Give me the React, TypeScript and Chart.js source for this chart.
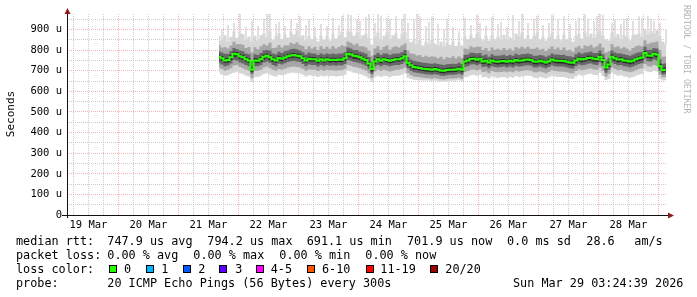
import React, { useEffect, useRef } from "react";
import { Chart, registerables } from "chart.js";

Chart.register(...registerables);

// ---------------- data ----------------
// time axis in hours after 19 Mar 00:00
const rangeStartHour = 3.411; // 19 Mar 03:24:39
const rangeEndHour = 243.411; // 29 Mar 03:24:39
const startHour = 64.2; // first sample
const stepHours = 1.2; // sample spacing

const dayLabels = ["19 Mar", "20 Mar", "21 Mar", "22 Mar", "23 Mar", "24 Mar", "25 Mar", "26 Mar", "27 Mar", "28 Mar"];
const yTickLabels = ["0", "100 u", "200 u", "300 u", "400 u", "500 u", "600 u", "700 u", "800 u", "900 u"];

// median rtt (microseconds)
const median = [
  768, 760, 750, 752, 765, 782, 780, 770, 765, 756,
  750, 705, 750, 748, 755, 768, 772, 765, 755, 750,
  762, 758, 764, 770, 774, 776, 773, 770, 760, 750,
  758, 756, 755, 748, 755, 750, 755, 752, 753, 752,
  754, 753, 760, 782, 778, 772, 770, 765, 758, 752,
  735, 708, 745, 755, 748, 755, 752, 748, 752, 755,
  756, 760, 770, 738, 726, 718, 716, 713, 710, 708,
  707, 705, 708, 705, 701, 700, 703, 705, 705, 706,
  710, 705, 745, 750, 757, 758, 753, 758, 745, 748,
  740, 750, 745, 743, 746, 747, 743, 748, 744, 752,
  748, 750, 753, 754, 752, 744, 743, 748, 744, 740,
  746, 754, 750, 748, 748, 747, 743, 740, 738, 750,
  758, 754, 757, 762, 763, 758, 756, 768, 752, 716,
  730, 768, 760, 754, 756, 750, 748, 744, 748, 755,
  760, 764, 786, 774, 772, 782, 778, 722, 702, 705,
];

// smoke: outer (lightest) band
const smokeLo1 = [
  690, 680, 675, 678, 685, 690, 695, 688, 684, 676,
  672, 645, 668, 670, 675, 684, 688, 682, 676, 672,
  680, 678, 682, 686, 690, 690, 688, 686, 680, 672,
  678, 676, 676, 670, 676, 672, 676, 674, 674, 672,
  674, 674, 680, 700, 696, 690, 688, 684, 678, 672,
  662, 645, 668, 676, 670, 676, 674, 670, 674, 676,
  676, 680, 688, 666, 660, 656, 655, 654, 652, 652,
  652, 650, 652, 650, 648, 647, 649, 651, 651, 652,
  654, 650, 668, 672, 678, 680, 675, 680, 668, 670,
  662, 672, 668, 665, 668, 670, 665, 670, 666, 674,
  670, 672, 675, 676, 674, 666, 665, 670, 666, 662,
  668, 676, 672, 670, 670, 669, 665, 662, 660, 672,
  680, 676, 678, 684, 685, 680, 678, 690, 674, 655,
  660, 690, 682, 676, 678, 672, 670, 666, 670, 676,
  680, 684, 705, 695, 692, 700, 696, 660, 652, 655,
];
const smokeHi1 = [
  868, 845, 872, 840, 865, 890, 860, 880, 878, 850,
  866, 840, 870, 848, 872, 880, 862, 892, 850, 868,
  880, 852, 876, 860, 890, 875, 895, 862, 872, 848,
  870, 852, 866, 842, 872, 850, 868, 846, 880, 856,
  872, 890, 862, 895, 886, 870, 884, 858, 872, 880,
  858, 826, 866, 885, 850, 870, 884, 852, 872, 880,
  856, 878, 890, 850, 838, 852, 830, 846, 822, 840,
  828, 850, 832, 822, 840, 818, 836, 826, 842, 820,
  836, 822, 866, 852, 876, 858, 880, 862, 848, 870,
  846, 872, 852, 866, 848, 874, 850, 862, 848, 880,
  866, 884, 856, 874, 852, 870, 880, 850, 866, 846,
  862, 880, 852, 872, 848, 876, 850, 862, 842, 870,
  878, 856, 884, 866, 880, 858, 876, 892, 870, 852,
  846, 884, 862, 878, 852, 874, 866, 848, 872, 876,
  880, 866, 900, 876, 892, 880, 896, 868, 842, 826,
];
// second band
const smokeLo2 = [
  715, 708, 700, 704, 712, 725, 728, 718, 712, 705,
  700, 665, 698, 700, 705, 715, 720, 712, 705, 700,
  708, 705, 710, 715, 718, 720, 718, 715, 708, 700,
  706, 704, 704, 698, 704, 700, 704, 702, 702, 700,
  702, 702, 708, 728, 724, 718, 716, 712, 706, 700,
  688, 666, 696, 704, 698, 704, 700, 696, 700, 704,
  704, 708, 716, 688, 678, 672, 670, 668, 666, 664,
  663, 661, 664, 661, 658, 657, 660, 662, 662, 663,
  666, 661, 694, 698, 705, 706, 701, 706, 694, 696,
  688, 698, 694, 692, 694, 696, 692, 696, 692, 700,
  696, 698, 701, 702, 700, 692, 692, 696, 692, 688,
  694, 702, 698, 696, 696, 695, 692, 688, 686, 698,
  706, 702, 705, 710, 711, 706, 704, 716, 700, 672,
  684, 716, 708, 702, 704, 698, 696, 692, 696, 702,
  708, 712, 732, 722, 720, 728, 724, 682, 668, 670,
];
const smokeHi2 = [
  825, 812, 815, 808, 822, 840, 828, 830, 826, 810,
  815, 790, 814, 804, 818, 828, 822, 835, 810, 812,
  825, 812, 824, 822, 836, 830, 838, 826, 820, 805,
  818, 808, 815, 800, 818, 806, 816, 806, 820, 808,
  815, 824, 818, 842, 836, 826, 832, 818, 818, 812,
  798, 772, 808, 818, 802, 815, 822, 802, 814, 818,
  812, 822, 832, 798, 784, 782, 774, 776, 766, 772,
  766, 770, 768, 760, 768, 756, 766, 762, 770, 760,
  770, 762, 808, 804, 818, 812, 816, 816, 800, 810,
  795, 812, 802, 806, 800, 810, 800, 808, 798, 815,
  808, 816, 808, 816, 806, 806, 812, 802, 806, 795,
  806, 818, 804, 812, 800, 812, 798, 802, 792, 812,
  820, 808, 822, 818, 826, 812, 818, 832, 812, 788,
  795, 830, 814, 818, 808, 814, 808, 798, 810, 818,
  822, 818, 848, 830, 836, 838, 842, 800, 768, 770,
];
// third band
const smokeLo3 = [
  738, 730, 722, 725, 735, 752, 750, 740, 735, 728,
  722, 685, 722, 722, 728, 740, 745, 738, 728, 722,
  734, 730, 736, 742, 746, 748, 745, 742, 732, 722,
  730, 728, 728, 720, 728, 722, 728, 724, 726, 724,
  726, 725, 732, 752, 748, 742, 740, 736, 730, 724,
  710, 684, 720, 728, 722, 728, 725, 722, 725, 728,
  728, 732, 742, 712, 700, 692, 690, 688, 685, 683,
  682, 680, 683, 680, 676, 675, 678, 680, 680, 681,
  685, 680, 718, 722, 730, 731, 726, 731, 718, 720,
  712, 722, 718, 716, 718, 720, 716, 720, 716, 724,
  720, 722, 725, 726, 724, 716, 716, 720, 716, 712,
  718, 726, 722, 720, 720, 719, 716, 712, 710, 722,
  730, 726, 729, 734, 735, 730, 728, 740, 724, 690,
  704, 740, 732, 726, 728, 722, 720, 716, 720, 726,
  732, 736, 758, 746, 744, 754, 750, 700, 682, 684,
];
const smokeHi3 = [
  795, 788, 782, 782, 795, 810, 804, 798, 794, 784,
  780, 745, 780, 776, 786, 798, 800, 798, 784, 780,
  792, 786, 794, 798, 804, 806, 804, 798, 790, 778,
  788, 784, 784, 776, 784, 778, 784, 780, 784, 780,
  784, 784, 790, 812, 808, 800, 800, 792, 788, 782,
  766, 742, 776, 786, 776, 784, 784, 776, 782, 784,
  784, 790, 800, 766, 754, 748, 744, 742, 738, 737,
  735, 734, 736, 733, 730, 728, 731, 733, 734, 733,
  738, 733, 776, 778, 787, 786, 783, 786, 774, 778,
  768, 780, 773, 773, 774, 777, 771, 777, 772, 782,
  776, 780, 781, 784, 780, 772, 773, 776, 774, 768,
  774, 784, 778, 778, 776, 777, 771, 770, 766, 780,
  788, 782, 787, 790, 793, 786, 786, 798, 780, 750,
  762, 798, 788, 784, 784, 780, 776, 772, 778, 785,
  790, 792, 816, 802, 802, 810, 808, 756, 734, 736,
];
// inner (darkest) band
const smokeLo4 = [
  756, 748, 738, 740, 752, 768, 768, 758, 752, 744,
  738, 695, 738, 736, 742, 756, 760, 752, 742, 738,
  750, 746, 752, 758, 762, 764, 761, 758, 748, 738,
  746, 744, 744, 736, 744, 738, 744, 740, 742, 740,
  742, 741, 748, 768, 764, 758, 756, 752, 746, 740,
  724, 696, 734, 744, 736, 744, 740, 736, 740, 744,
  744, 748, 758, 727, 714, 706, 704, 701, 698, 696,
  695, 693, 696, 693, 689, 688, 691, 693, 693, 694,
  698, 693, 732, 736, 744, 745, 740, 745, 732, 735,
  727, 737, 732, 730, 733, 734, 730, 735, 731, 739,
  735, 737, 740, 741, 739, 731, 730, 735, 731, 727,
  733, 741, 737, 735, 735, 734, 730, 727, 725, 737,
  745, 741, 744, 749, 750, 745, 743, 755, 739, 704,
  718, 755, 747, 741, 743, 737, 735, 731, 735, 742,
  747, 751, 773, 761, 759, 769, 765, 712, 692, 694,
];
const smokeHi4 = [
  778, 770, 760, 762, 776, 792, 790, 780, 776, 766,
  760, 722, 760, 758, 766, 778, 782, 776, 766, 760,
  772, 768, 774, 780, 784, 786, 783, 780, 770, 760,
  768, 766, 765, 758, 765, 760, 765, 762, 763, 762,
  764, 763, 770, 792, 788, 782, 780, 775, 768, 762,
  746, 720, 756, 765, 758, 765, 762, 758, 762, 765,
  766, 770, 780, 748, 736, 728, 726, 723, 720, 718,
  717, 715, 718, 715, 711, 710, 713, 715, 715, 716,
  720, 715, 756, 760, 767, 768, 763, 768, 756, 758,
  750, 760, 755, 753, 756, 757, 753, 758, 754, 762,
  758, 760, 763, 764, 762, 754, 753, 758, 754, 750,
  756, 764, 760, 758, 758, 757, 753, 750, 748, 760,
  768, 764, 767, 772, 773, 768, 766, 778, 762, 728,
  742, 778, 770, 764, 766, 760, 758, 754, 758, 765,
  770, 774, 796, 784, 782, 792, 788, 734, 714, 717,
];
// highest ping per sample where it spikes above the smoke
const smokeSpikes: (number | null)[] = [
  null, 900, null, 920, null, 930, null, 973, null, 910,
  null, 940, null, 915, null, 950, 973, 980, null, 925,
  934, null, 915, null, 945, null, 930, 962, null, 920,
  948, null, 910, null, 925, null, 915, null, 955, null,
  920, 965, null, 972, 968, null, 948, 940, null, 960,
  973, null, 930, 975, 965, null, 955, 950, null, 962,
  null, 950, 980, 930, null, 945, 978, 960, null, 915,
  935, 960, null, 925, null, 900, 950, null, 910, null,
  890, null, 955, null, 920, null, 968, 930, null, 915,
  null, 960, null, 925, 935, null, 910, null, 968, null,
  940, 980, null, 930, null, 950, 965, null, 920, null,
  930, 970, null, 945, null, 962, null, 925, null, 940,
  955, null, 980, 950, null, 940, 962, 975, 970, null,
  null, 930, 945, null, 925, 950, 955, null, 940, null,
  962, 955, null, 965, 950, 940, null, 930, null, 900,
];

// legend texts
const rttLegend = ["median rtt:", "747.9 us avg", "794.2 us max", "691.1 us min", "701.9 us now", "0.0 ms sd", "28.6", "am/s"];
const lossLegend = ["packet loss:", "0.00 % avg", "0.00 % max", "0.00 % min", "0.00 % now"];
const lossColorTitle = "loss color:";
const lossLabels = ["0", "1", "2", "3", "4-5", "6-10", "11-19", "20/20"];
const lossColors = ["#26ff00", "#00b8ff", "#0059ff", "#5e00ff", "#ff00ff", "#ff5500", "#ff0000", "#a00000"];
const probeTitle = "probe:";
const probeText = "20 ICMP Echo Pings (56 Bytes) every 300s";
const stampText = "Sun Mar 29 03:24:39 2026";
const yTitle = "Seconds";
const watermark = "RRDTOOL / TOBI OETIKER";

// ---------------- layout (positions only) ----------------
const rttX = [16, 107.3, 207.3, 306.7, 407, 507, 586.3, 634.3];
const lossX = [16, 107.3, 193.3, 279.3, 365.3];
const boxX = [108.7, 146, 182.7, 219.3, 256, 306.7, 366, 430.3];
const boxLabelX = [124, 161.3, 198.3, 235.3, 270.7, 322, 380.3, 445.3];
const rowTop = [234, 248, 262, 276];

const MONO = "'DejaVu Sans Mono', monospace";
const majorGrid = "rgba(235,150,150,0.7)";
const minorGrid = "rgba(190,190,190,0.8)";

const axesPlugin = {
  id: "rrdAxes",
  afterDatasetsDraw(chart: any) {
    const { ctx, chartArea: a } = chart;
    ctx.save();
    ctx.strokeStyle = "#111";
    ctx.lineWidth = 1;
    ctx.beginPath();
    ctx.moveTo(a.left - 5, a.bottom + 0.5);
    ctx.lineTo(a.right + 1, a.bottom + 0.5);
    ctx.moveTo(a.left + 0.5, a.bottom + 3);
    ctx.lineTo(a.left + 0.5, a.top - 1);
    ctx.stroke();
    ctx.fillStyle = "#8e1c1c";
    ctx.beginPath();
    ctx.moveTo(a.left + 0.5, a.top - 6);
    ctx.lineTo(a.left - 2.5, a.top);
    ctx.lineTo(a.left + 3.5, a.top);
    ctx.closePath();
    ctx.fill();
    ctx.beginPath();
    ctx.moveTo(a.right + 7, a.bottom + 0.5);
    ctx.lineTo(a.right + 1, a.bottom - 2.5);
    ctx.lineTo(a.right + 1, a.bottom + 3.5);
    ctx.closePath();
    ctx.fill();
    ctx.restore();
  },
};

export default function App() {
  const ref = useRef<HTMLCanvasElement>(null);

  useEffect(() => {
    const canvas = ref.current;
    if (!canvas) return;
    const t = (i: number) => startHour + i * stepHours;
    const pts = (arr: number[]) => arr.map((v, i) => ({ x: t(i), y: v }));
    const band = (lo: number[], hi: number[], color: string, order: number) => [
      {
        type: "line",
        data: pts(lo),
        borderWidth: 0,
        borderColor: "rgba(0,0,0,0)",
        pointRadius: 0,
        fill: false,
        stepped: "middle",
        order,
      },
      {
        type: "line",
        data: pts(hi),
        borderWidth: 0,
        borderColor: "rgba(0,0,0,0)",
        backgroundColor: color,
        pointRadius: 0,
        fill: "-1",
        stepped: "middle",
        order,
      },
    ];
    const spikeData: any[] = [];
    smokeSpikes.forEach((v, i) => {
      if (v != null) spikeData.push({ x: t(i), y: [smokeHi1[i], v] });
    });

    const chart = new Chart(canvas, {
      type: "line",
      data: {
        datasets: [
          {
            type: "line",
            data: pts(median),
            borderColor: "#26ff00",
            borderWidth: 2,
            pointRadius: 0,
            fill: false,
            stepped: "middle",
            order: 0,
          },
          ...band(smokeLo4, smokeHi4, "#2a2a2a", 1),
          ...band(smokeLo3, smokeHi3, "#666666", 2),
          ...band(smokeLo2, smokeHi2, "#a6a6a6", 3),
          ...band(smokeLo1, smokeHi1, "#d6d6d6", 4),
          {
            type: "bar",
            data: spikeData,
            backgroundColor: "#dadada",
            borderWidth: 0,
            barThickness: 1,
            order: 5,
          },
        ] as any,
      },
      options: {
        animation: false,
        responsive: false,
        devicePixelRatio: 1,
        events: [],
        layout: { padding: { left: 0, top: 14, right: 30, bottom: 0 } },
        plugins: { legend: { display: false }, tooltip: { enabled: false } },
        scales: {
          x: {
            type: "linear",
            min: rangeStartHour,
            max: rangeEndHour,
            offset: false,
            afterBuildTicks: (s: any) => {
              const ticks: any[] = [];
              for (let h = 6; h <= 240; h += 6) ticks.push({ value: h });
              s.ticks = ticks;
            },
            afterFit: (s: any) => {
              s.height = 82;
            },
            grid: {
              color: (c: any) => (c.tick && c.tick.value % 24 === 0 ? majorGrid : minorGrid),
              lineWidth: 1,
              drawTicks: false,
              offset: false,
            },
            border: { display: false, dash: [1, 1] },
            ticks: {
              autoSkip: false,
              maxRotation: 0,
              minRotation: 0,
              padding: 4,
              color: "#000",
              font: { family: MONO, size: 10.5 },
              callback: (v: any) => {
                const h = Number(v);
                return h % 24 === 12 ? dayLabels[(h - 12) / 24] ?? "" : "";
              },
            },
          },
          y: {
            type: "linear",
            min: 0,
            max: 975,
            afterBuildTicks: (s: any) => {
              const ticks: any[] = [];
              for (let v = 0; v <= 950; v += 50) ticks.push({ value: v });
              s.ticks = ticks;
            },
            afterFit: (s: any) => {
              s.width = 67;
            },
            grid: {
              color: (c: any) => (c.tick && c.tick.value % 100 === 0 ? majorGrid : minorGrid),
              lineWidth: 1,
              drawTicks: false,
            },
            border: { display: false, dash: [1, 1] },
            ticks: {
              autoSkip: false,
              padding: 5,
              color: "#000",
              font: { family: MONO, size: 10.5 },
              callback: (v: any) => {
                const n = Number(v);
                return n % 100 === 0 ? yTickLabels[n / 100] ?? "" : "";
              },
            },
          },
        },
      } as any,
      plugins: [axesPlugin],
    });
    return () => chart.destroy();
  }, []);

  const txt: React.CSSProperties = {
    position: "absolute",
    fontFamily: MONO,
    fontSize: 11.8,
    lineHeight: "14px",
    color: "#000",
    whiteSpace: "pre",
  };

  return (
    <div style={{ position: "fixed", left: 0, top: 0, width: 697, height: 297, background: "#fff", overflow: "hidden" }}>
      <canvas ref={ref} width={697} height={297} style={{ position: "absolute", left: 0, top: 0, width: 697, height: 297 }} />
      <div
        style={{
          position: "absolute",
          left: -19,
          top: 107,
          width: 60,
          height: 14,
          textAlign: "center",
          transform: "rotate(-90deg)",
          fontFamily: MONO,
          fontSize: 11,
          lineHeight: "14px",
          whiteSpace: "nowrap",
          color: "#000",
        }}
      >
        {yTitle}
      </div>
      <div
        style={{
          position: "absolute",
          left: 681.5,
          top: 5,
          writingMode: "vertical-rl",
          fontFamily: MONO,
          fontSize: 8.2,
          lineHeight: "10px",
          whiteSpace: "nowrap",
          color: "#b4b4b4",
        }}
      >
        {watermark}
      </div>
      {rttLegend.map((s, i) => (
        <span key={"r" + i} style={{ ...txt, left: rttX[i], top: rowTop[0] }}>
          {s}
        </span>
      ))}
      {lossLegend.map((s, i) => (
        <span key={"l" + i} style={{ ...txt, left: lossX[i], top: rowTop[1] }}>
          {s}
        </span>
      ))}
      <span style={{ ...txt, left: 16, top: rowTop[2] }}>{lossColorTitle}</span>
      {lossLabels.map((s, i) => (
        <React.Fragment key={"c" + i}>
          <span
            style={{
              position: "absolute",
              left: boxX[i],
              top: rowTop[2] + 3,
              width: 8,
              height: 8,
              boxSizing: "border-box",
              border: "1px solid #000",
              background: lossColors[i],
            }}
          />
          <span style={{ ...txt, left: boxLabelX[i], top: rowTop[2] }}>{s}</span>
        </React.Fragment>
      ))}
      <span style={{ ...txt, left: 16, top: rowTop[3] }}>{probeTitle}</span>
      <span style={{ ...txt, left: 107.3, top: rowTop[3] }}>{probeText}</span>
      <span style={{ ...txt, left: 513, top: rowTop[3] }}>{stampText}</span>
    </div>
  );
}
